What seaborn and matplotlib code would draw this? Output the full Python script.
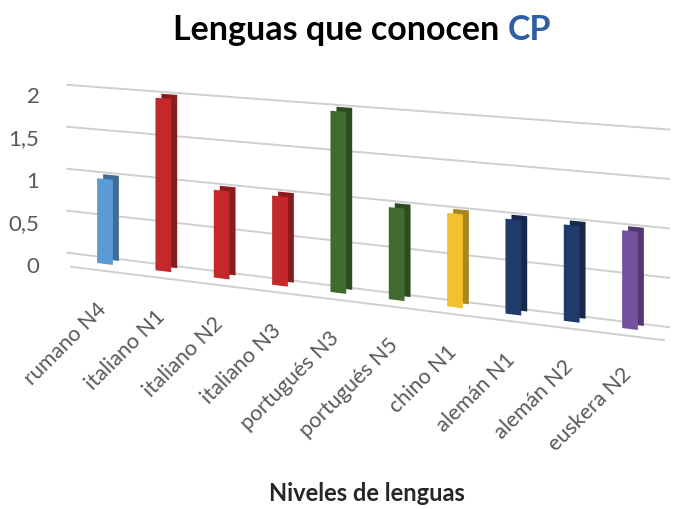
import matplotlib
matplotlib.use("Agg")
import matplotlib.pyplot as plt
import matplotlib.transforms as mtransforms
import matplotlib.patches as mpatches
import matplotlib.colors as mcolors
import seaborn as sns
import numpy as np
import pandas as pd

niveles = ["rumano N4", "italiano N1", "italiano N2", "italiano N3", "portugués N3",
           "portugués N5", "chino N1", "alemán N1", "alemán N2", "euskera N2"]
personas = [1, 2, 1, 1, 2, 1, 1, 1, 1, 1]
colores = ["#5B9BD5", "#C4282B", "#C4282B", "#C4282B", "#3F6B2E",
           "#3F6B2E", "#F2C12E", "#1F3A6B", "#1F3A6B", "#7450A0"]
y_ticks = [0, 0.5, 1, 1.5, 2]
y_labels = ["0", "0,5", "1", "1,5", "2"]

df = pd.DataFrame({"nivel": niveles, "n": personas})

H = 510


class Perspectiva(mtransforms.Transform):
    # tilts the floor and grows the unit height to the right, like excel 3d
    input_dims = 2
    output_dims = 2

    def transform_non_affine(self, values):
        values = np.asarray(values, dtype=float)
        X = values[:, 0]
        Y = values[:, 1]
        d = (X - 105) / 525
        v = (Y - 245) / 85
        Yn = 245 - 65 * d + v * (85 + 13 * d)
        return np.column_stack([X, Yn])


sns.set_style("white")
plt.rcParams["font.family"] = ["Lato", "DejaVu Sans"]

fig = plt.figure(figsize=(6.74, 5.10), dpi=100)
ax = fig.add_axes([70 / 674, 245 / H, 595 / 674, 170 / H])

sns.barplot(data=df, x="nivel", y="n", hue="nivel", palette=colores,
            legend=False, width=0.27, ax=ax, saturation=1,
            edgecolor="none", linewidth=0)

ax.set_xlim(-0.6, len(niveles) - 0.4)
ax.set_ylim(0, 2)
warp = Perspectiva()
tr = ax.transData + warp

# 3d look: darker copy of each bar pushed back and up
for cont, col in zip(ax.containers, colores):
    oscuro = tuple(c * 0.7 for c in mcolors.to_rgb(col))
    for p in cont:
        p.set_transform(tr)
        p.set_clip_on(False)
        p.set_zorder(3)
        sombra = mpatches.Rectangle(p.get_xy(), p.get_width(), p.get_height(),
                                    facecolor=oscuro, edgecolor="none", linewidth=0,
                                    transform=tr + mtransforms.Affine2D().translate(6, 4),
                                    zorder=2.9, clip_on=False)
        ax.add_patch(sombra)

# back wall grid and front edge of the floor
ax.hlines(y_ticks, -0.75, len(niveles) - 0.4, colors="#CFCFCF", linewidth=1.4,
          transform=tr + mtransforms.Affine2D().translate(5, 6), clip_on=False, zorder=1)
ax.hlines([0], -0.6, len(niveles) - 0.4, colors="#CFCFCF", linewidth=1.4,
          transform=tr + mtransforms.Affine2D().translate(0, -7), clip_on=False, zorder=1)

ax.set_xticks([])
ax.set_yticks(y_ticks)
ax.set_yticklabels(y_labels, fontsize=16, color="#595959")
ax.tick_params(axis="y", length=0, pad=22)
ax.grid(False)
for s in ax.spines.values():
    s.set_visible(False)
ax.set_xlabel("")
ax.set_ylabel("")

for i, lbl in enumerate(niveles):
    ax.annotate(lbl, xy=(i, 0), xycoords=tr, xytext=(-9, -34), textcoords="offset pixels",
                rotation=45, ha="right", va="top", rotation_mode="anchor",
                fontsize=15.5, color="#595959", annotation_clip=False)

# title in two colours
fig.canvas.draw()
r = fig.canvas.get_renderer()
t1 = fig.text(0, 1 - 30 / H, "Lenguas que conocen ", fontsize=24.5, fontweight="bold",
              color="black", va="center")
t2 = fig.text(0, 1 - 30 / H, "CP", fontsize=24.5, fontweight="bold", color="#2E5FA3",
              va="center")
w1 = t1.get_window_extent(r).width
w2 = t2.get_window_extent(r).width
W = fig.get_figwidth() * fig.dpi
x0 = 362 - (w1 + w2) / 2
t1.set_x(x0 / W)
t2.set_x((x0 + w1) / W)

fig.text(367 / W, 1 - 494 / H, "Niveles de lenguas", fontsize=17, fontweight="bold",
         ha="center", va="center")

fig.savefig("out.png", dpi=100)
